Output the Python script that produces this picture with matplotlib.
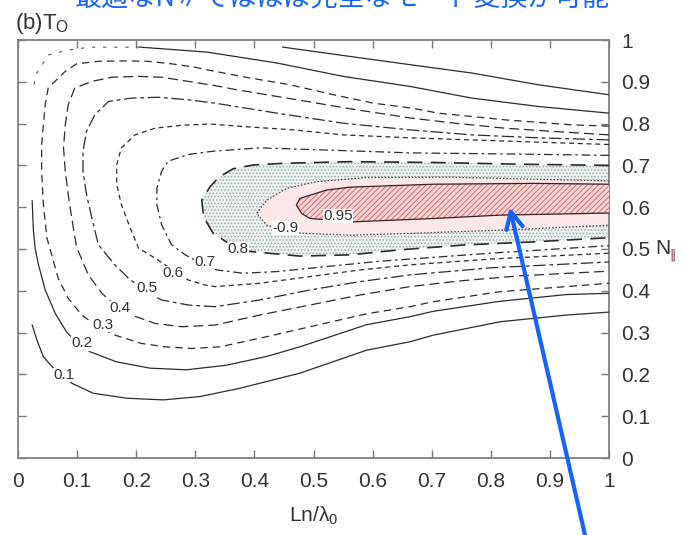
import matplotlib
matplotlib.use('Agg')
import matplotlib.pyplot as plt

plt.rcParams['font.family'] = ['Liberation Sans', 'DejaVu Sans']
plt.rcParams['mathtext.fontset'] = 'custom'
plt.rcParams['mathtext.rm'] = 'Liberation Sans'
plt.rcParams['hatch.linewidth'] = 0.7

# contour lines of T_O: x = Ln/lambda0, y = N_par
# 0.1 and 0.2 come in separate pieces, the others run upper edge -> nose -> lower edge
c01a_x = [1.0, 0.88, 0.768, 0.663, 0.55, 0.448]
c01a_y = [0.869, 0.893, 0.921, 0.941, 0.963, 0.983]
c01b_x = [0.024, 0.032, 0.043, 0.060, 0.077, 0.091, 0.127, 0.184, 0.246, 0.308, 0.376, 0.477, 0.590, 0.663, 0.703, 0.816, 0.928, 1.0]
c01b_y = [0.318, 0.282, 0.242, 0.215, 0.195, 0.179, 0.155, 0.143, 0.139, 0.147, 0.167, 0.203, 0.258, 0.278, 0.294, 0.326, 0.342, 0.349]

c02a_x = [1.0, 0.880, 0.768, 0.663, 0.550, 0.438, 0.320, 0.206]
c02a_y = [0.825, 0.841, 0.861, 0.889, 0.913, 0.945, 0.971, 0.983]
c02c_x = [0.206, 0.122, 0.085, 0.051, 0.032, 0.024]
c02c_y = [0.983, 0.983, 0.976, 0.964, 0.921, 0.878]
c02b_x = [0.024, 0.026, 0.029, 0.034, 0.046, 0.063, 0.082, 0.100, 0.122, 0.167, 0.223, 0.285, 0.353, 0.421, 0.477, 0.590, 0.663, 0.703, 0.816, 0.928, 1.0]
c02b_y = [0.615, 0.545, 0.502, 0.466, 0.402, 0.346, 0.302, 0.275, 0.254, 0.230, 0.215, 0.211, 0.222, 0.243, 0.266, 0.319, 0.338, 0.351, 0.375, 0.391, 0.394]

c03_x = [1.0, 0.937, 0.824, 0.711, 0.666, 0.601, 0.534, 0.460, 0.393, 0.333, 0.299, 0.260, 0.220, 0.181, 0.136, 0.099, 0.080, 0.051, 0.046, 0.043, 0.040, 0.040, 0.043, 0.049, 0.057, 0.068, 0.085, 0.108, 0.134, 0.164, 0.209, 0.249, 0.294, 0.342, 0.420, 0.494, 0.590, 0.663, 0.703, 0.816, 0.928, 1.0]
c03_y = [0.794, 0.797, 0.809, 0.825, 0.837, 0.849, 0.869, 0.893, 0.909, 0.925, 0.935, 0.943, 0.949, 0.950, 0.949, 0.943, 0.925, 0.885, 0.845, 0.797, 0.750, 0.686, 0.606, 0.526, 0.486, 0.430, 0.382, 0.342, 0.315, 0.294, 0.274, 0.266, 0.262, 0.266, 0.290, 0.314, 0.345, 0.362, 0.374, 0.398, 0.410, 0.418]

c04_x = [1.0, 0.909, 0.824, 0.739, 0.666, 0.573, 0.472, 0.370, 0.333, 0.288, 0.243, 0.204, 0.159, 0.125, 0.096, 0.085, 0.080, 0.077, 0.080, 0.085, 0.091, 0.099, 0.119, 0.142, 0.165, 0.192, 0.232, 0.277, 0.333, 0.409, 0.494, 0.579, 0.663, 0.75, 0.85, 1.0]
c04_y = [0.773, 0.781, 0.789, 0.801, 0.813, 0.833, 0.857, 0.881, 0.891, 0.901, 0.911, 0.913, 0.911, 0.901, 0.885, 0.845, 0.797, 0.742, 0.686, 0.630, 0.574, 0.505, 0.438, 0.394, 0.365, 0.342, 0.322, 0.314, 0.318, 0.342, 0.366, 0.390, 0.410, 0.424, 0.436, 0.447]

c05_x = [1.0, 0.880, 0.768, 0.663, 0.550, 0.438, 0.333, 0.288, 0.237, 0.192, 0.153, 0.130, 0.116, 0.110, 0.110, 0.116, 0.125, 0.136, 0.164, 0.187, 0.215, 0.243, 0.288, 0.333, 0.409, 0.494, 0.579, 0.663, 0.80, 1.0]
c05_y = [0.761, 0.766, 0.773, 0.785, 0.801, 0.825, 0.849, 0.857, 0.863, 0.861, 0.853, 0.821, 0.782, 0.734, 0.686, 0.630, 0.574, 0.510, 0.462, 0.430, 0.400, 0.378, 0.366, 0.362, 0.378, 0.402, 0.422, 0.438, 0.455, 0.469]

c06_x = [1.0, 0.85, 0.663, 0.550, 0.466, 0.381, 0.325, 0.277, 0.232, 0.198, 0.175, 0.167, 0.167, 0.175, 0.190, 0.204, 0.232, 0.260, 0.288, 0.316, 0.333, 0.409, 0.494, 0.579, 0.663, 0.80, 1.0]
c06_y = [0.750, 0.757, 0.766, 0.773, 0.785, 0.793, 0.799, 0.796, 0.789, 0.773, 0.742, 0.702, 0.654, 0.606, 0.550, 0.502, 0.478, 0.452, 0.426, 0.414, 0.410, 0.418, 0.434, 0.450, 0.462, 0.476, 0.490]

c07_x = [1.0, 0.85, 0.663, 0.579, 0.494, 0.409, 0.330, 0.288, 0.254, 0.243, 0.235, 0.235, 0.243, 0.260, 0.283, 0.310, 0.336, 0.381, 0.438, 0.522, 0.607, 0.663, 0.80, 1.0]
c07_y = [0.724, 0.727, 0.730, 0.734, 0.738, 0.742, 0.734, 0.726, 0.710, 0.686, 0.646, 0.606, 0.558, 0.510, 0.486, 0.465, 0.450, 0.442, 0.446, 0.458, 0.470, 0.476, 0.490, 0.508]

c08_x = [1.0, 0.844, 0.703, 0.562, 0.449, 0.398, 0.364, 0.340, 0.325, 0.311, 0.314, 0.330, 0.360, 0.393, 0.477, 0.562, 0.646, 0.759, 0.872, 1.0]
c08_y = [0.700, 0.703, 0.707, 0.709, 0.705, 0.701, 0.692, 0.672, 0.649, 0.617, 0.577, 0.538, 0.510, 0.494, 0.483, 0.486, 0.498, 0.510, 0.517, 0.527]

c09_x = [1.0, 0.872, 0.731, 0.590, 0.505, 0.455, 0.421, 0.404, 0.421, 0.477, 0.562, 0.675, 0.816, 1.0]
c09_y = [0.663, 0.667, 0.672, 0.671, 0.661, 0.645, 0.617, 0.585, 0.557, 0.538, 0.533, 0.538, 0.545, 0.557]

c095_x = [1.0, 0.872, 0.703, 0.562, 0.522, 0.477, 0.471, 0.480, 0.494, 0.567, 0.703, 0.816, 1.0]
c095_y = [0.655, 0.657, 0.655, 0.648, 0.641, 0.621, 0.605, 0.585, 0.573, 0.565, 0.573, 0.581, 0.586]

label_text = ['0.1', '0.2', '0.3', '0.4', '0.5', '0.6', '0.7', '0.8', '-0.9', '0.95']
label_x = [0.077, 0.108, 0.144, 0.173, 0.218, 0.263, 0.316, 0.372, 0.452, 0.541]
label_y = [0.199, 0.274, 0.318, 0.358, 0.406, 0.442, 0.470, 0.500, 0.550, 0.579]

ticks = [0, 0.1, 0.2, 0.3, 0.4, 0.5, 0.6, 0.7, 0.8, 0.9, 1]
tick_labels = ['0', '0.1', '0.2', '0.3', '0.4', '0.5', '0.6', '0.7', '0.8', '0.9', '1']

fig = plt.figure(figsize=(6.84, 5.35), dpi=100)
ax = fig.add_axes([18 / 684, 1 - 458 / 535, 591 / 684, 418 / 535])
ax.set_xlim(0, 1)
ax.set_ylim(0, 1)

# shaded bands: 0.8-0.9 dotted, 0.9-0.95 pink, >0.95 red hatched
ax.fill(c08_x, c08_y, facecolor='#edf2f1', edgecolor='#98aca8', hatch='.....', lw=0, zorder=1)
ax.fill(c09_x, c09_y, facecolor='#fce8e8', edgecolor='none', lw=0, zorder=2)
ax.fill(c095_x, c095_y, facecolor='#f8d6d6', edgecolor='#d86a6a', hatch='//////', lw=0, zorder=3)

lc = '#2b2b2b'
ax.plot(c01a_x, c01a_y, color=lc, lw=0.9, zorder=4)
ax.plot(c01b_x, c01b_y, color=lc, lw=0.9, zorder=4)
ax.plot(c02a_x, c02a_y, color=lc, lw=0.9, zorder=4)
ax.plot(c02c_x, c02c_y, color='#555555', lw=0.8, ls=(0, (3, 7)), zorder=4)
ax.plot(c02b_x, c02b_y, color=lc, lw=0.9, zorder=4)
ax.plot(c03_x, c03_y, color=lc, lw=0.9, ls=(0, (6, 4)), zorder=4)
ax.plot(c04_x, c04_y, color=lc, lw=0.9, ls=(0, (8, 4)), zorder=4)
ax.plot(c05_x, c05_y, color=lc, lw=0.9, ls=(0, (10, 3, 3, 3)), zorder=4)
ax.plot(c06_x, c06_y, color=lc, lw=0.9, ls=(0, (4, 3)), zorder=4)
ax.plot(c07_x, c07_y, color=lc, lw=0.9, ls=(0, (7, 3, 2, 3)), zorder=4)
ax.plot(c08_x, c08_y, color=lc, lw=1.2, ls=(0, (9, 5)), zorder=4)
ax.plot(c09_x, c09_y, color='#444444', lw=0.9, ls=(0, (1.2, 1.5)), zorder=4)
ax.plot(c095_x, c095_y, color='#3a2020', lw=0.9, zorder=4)

for t, x, y in zip(label_text, label_x, label_y):
    ax.text(x, y, t, fontsize=11, color='#333333', ha='center', va='center', zorder=5,
            bbox=dict(facecolor='white', edgecolor='none', pad=0.2))

ax.set_xticks(ticks)
ax.set_xticklabels(tick_labels)
ax.set_yticks(ticks)
ax.set_yticklabels(tick_labels)
ax.tick_params(direction='in', length=6, width=1, color='#777777', labelsize=15,
               labelcolor='#333333', top=True, right=True, left=True,
               labelleft=False, labelright=True)
ax.tick_params(axis='x', pad=10)
ax.tick_params(axis='y', pad=9)
for s in ax.spines.values():
    s.set_color('#808080')
    s.set_linewidth(1.3)

ax.set_xlabel('Ln/λ$_\\mathrm{0}$', fontsize=15, color='#333333', labelpad=10)
fig.text(655 / 684, 1 - 248 / 535, 'N', fontsize=15, color='#333333', va='center')
fig.text(669 / 684, 1 - 255 / 535, '∥', fontsize=9, color='#7a2a4a', va='center',
         family='DejaVu Sans')

fig.text(15 / 684, 1 - 29 / 535, '(b)T$_\\mathrm{O}$', fontsize=16, color='#333333',
         va='baseline')

# blue overlay from the slide, only its lower edge lies inside the picture
fig.text(75 / 684, 1 - 5 / 535, '最適なN∥ではほぼ完全なモード変換が可能', fontsize=19.5,
         color='#1566ff', va='baseline', family=['Noto Sans CJK JP', 'DejaVu Sans'])
ax.annotate('', xy=(0.832, 0.600), xycoords='data', xytext=(585 / 684, 0.0),
            textcoords='figure fraction', annotation_clip=False, zorder=10,
            arrowprops=dict(arrowstyle='->', color='#1463ff', lw=3, mutation_scale=30,
                            shrinkA=0, shrinkB=0))

fig.savefig('out.png', dpi=100)
